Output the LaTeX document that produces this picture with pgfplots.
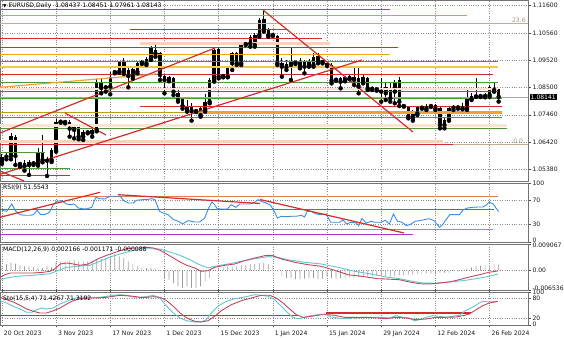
\documentclass[border=0pt]{standalone}
\usepackage{pgfplots}
\pgfplotsset{compat=1.18}
\usepackage{pgfplotstable}
\usepackage{fontspec}
\setmainfont{DejaVu Sans}

\definecolor{mtpurple}{HTML}{A43CC6}
\definecolor{mtsalmon}{HTML}{E0916A}
\definecolor{mtfib}{HTML}{C4AD95}
\definecolor{mtred}{HTML}{D22C2C}
\definecolor{mtbrred}{HTML}{B9463C}
\definecolor{mtpeach}{HTML}{FAD2B6}
\definecolor{mtpeachl}{HTML}{FCE4D2}
\definecolor{mtgold}{HTML}{E8A624}
\definecolor{mtlgold}{HTML}{F5C451}
\definecolor{mtgreen}{HTML}{4F983A}
\definecolor{mtolive}{HTML}{B3A01C}
\definecolor{mtorange}{HTML}{F29F36}
\definecolor{mtrsiorg}{HTML}{E07A50}
\definecolor{mtrsigrn}{HTML}{4A8A2A}
\definecolor{mtblue}{HTML}{3A8DDF}
\definecolor{mthist}{HTML}{9C9C9C}
\definecolor{mtmred}{HTML}{C2475A}
\definecolor{mtcyan}{HTML}{63C4D0}

\newcommand{\tfont}{\fontsize{6.1}{7.2}\selectfont}

\pgfplotsset{
  discard if not/.style 2 args={
    x filter/.append code={
      \edef\tempa{\thisrow{#1}}
      \edef\tempb{#2}
      \ifx\tempa\tempb\else\def\pgfmathresult{inf}\fi
    }
  },
  mtpanel/.style={
    scale only axis, width=528bp, anchor=south west,
    xmin=-0.42, xmax=116.5,
    xtick={0,12,...,108},
    xticklabels={},
    grid=major,
    major grid style={dotted, draw=black!45, line width=0.5bp},
    axis line style={draw=black!55, line width=0.9bp},
    ytick pos=right, yticklabel pos=right,
    scaled y ticks=false,
    tick align=outside,
    major tick length=2.5bp,
    tick style={draw=black!70, line width=0.5bp},
    xtick style={draw=none},
    ticklabel style={font=\tfont, text=black!90},
    yticklabel style={xshift=-1.5bp},
  },
  wick/.style={only marks, mark=none, error bars/.cd, y dir=plus, y explicit, error mark=none,
    error bar style={draw=black, line width=0.8bp}},
}

\pgfplotstableread{
i o h l c d
0 1.05680 1.05971 1.05592 1.05870 1
1 1.05870 1.06060 1.05769 1.05933 1
2 1.05895 1.06756 1.05769 1.06654 1
3 1.06629 1.06705 1.05554 1.05895 0
4 1.05617 1.05680 1.05490 1.05592 0
5 1.05642 1.05743 1.05338 1.05516 0
6 1.05554 1.05743 1.05174 1.05655 1
7 1.05617 1.05693 1.05554 1.05629 0
8 1.05617 1.06186 1.05528 1.06060 1
9 1.06060 1.06692 1.05655 1.05743 0
10 1.05718 1.05870 1.05136 1.05743 0
11 1.05743 1.06186 1.05667 1.06123 1
12 1.06123 1.07287 1.06060 1.07198 1
13 1.07198 1.07262 1.07160 1.07211 0
14 1.07198 1.07236 1.07135 1.07186 0
15 1.07186 1.07262 1.06629 1.06933 0
16 1.06882 1.07084 1.06566 1.07034 1
17 1.07034 1.07110 1.06528 1.06629 0
18 1.06629 1.06882 1.06502 1.06806 1
19 1.06793 1.06844 1.06756 1.06806 0
20 1.06781 1.06945 1.06629 1.06882 1
21 1.06882 1.08805 1.06831 1.08717 1
22 1.08717 1.08805 1.08274 1.08476 0
23 1.08501 1.08577 1.08337 1.08514 0
24 1.08527 1.09096 1.08236 1.08906 1
25 1.09083 1.09134 1.09033 1.09096 0
26 1.09096 1.09514 1.09058 1.09463 1
27 1.09463 1.09602 1.09008 1.09109 0
28 1.09159 1.09223 1.08501 1.08932 0
29 1.08932 1.09286 1.08830 1.09210 1
30 1.09096 1.09501 1.09033 1.09438 1
31 1.09438 1.09539 1.09387 1.09476 0
32 1.09412 1.09640 1.09349 1.09564 1
33 1.09602 1.10070 1.09539 1.09982 1
34 1.09919 1.10172 1.09665 1.09792 0
35 1.09792 1.09855 1.08780 1.08970 0
36 1.08932 1.08982 1.08274 1.08780 0
37 1.08780 1.08932 1.08729 1.08881 1
38 1.08843 1.08906 1.08210 1.08337 0
39 1.08274 1.08464 1.07957 1.08021 0
40 1.08046 1.08147 1.07692 1.07793 0
41 1.07793 1.08021 1.07578 1.07641 0
42 1.07742 1.07894 1.07236 1.07603 0
43 1.07603 1.07641 1.07565 1.07616 0
44 1.07451 1.07793 1.07388 1.07704 1
45 1.07641 1.08248 1.07578 1.07957 1
46 1.07957 1.08843 1.07894 1.08780 1
47 1.08780 1.10045 1.08717 1.09919 1
48 1.09944 1.10045 1.08843 1.08906 0
49 1.08932 1.09008 1.08881 1.08957 0
50 1.08906 1.09286 1.08881 1.09223 1
51 1.09412 1.09855 1.09159 1.09792 1
52 1.09792 1.09855 1.09349 1.09412 0
53 1.09412 1.10172 1.09349 1.10108 1
54 1.10146 1.10235 1.10108 1.10172 0
55 1.10172 1.10488 1.10045 1.10399 1
56 1.10108 1.10551 1.10045 1.10488 1
57 1.10488 1.11120 1.10425 1.11057 1
58 1.11083 1.11411 1.10614 1.10678 0
59 1.10678 1.10741 1.10425 1.10488 0
60 1.10488 1.10526 1.10450 1.10500 0
61 1.10450 1.10488 1.09349 1.09412 0
62 1.09412 1.09602 1.08906 1.09286 0
63 1.09387 1.09539 1.09159 1.09261 0
64 1.09349 1.09982 1.08780 1.09476 1
65 1.09438 1.09501 1.09387 1.09450 0
66 1.09286 1.09602 1.09223 1.09501 1
67 1.09286 1.09539 1.09033 1.09501 1
68 1.09349 1.09564 1.09286 1.09476 1
69 1.09349 1.09792 1.09286 1.09665 1
70 1.09691 1.09792 1.09412 1.09476 0
71 1.09476 1.09539 1.09412 1.09463 0
72 1.09349 1.09488 1.09311 1.09438 1
73 1.09349 1.09412 1.08653 1.08755 0
74 1.08805 1.08843 1.08755 1.08792 0
75 1.08717 1.08906 1.08464 1.08843 1
76 1.08881 1.08932 1.08729 1.08780 0
77 1.08843 1.08970 1.08805 1.08932 1
78 1.08906 1.09286 1.08590 1.08780 0
79 1.08527 1.09286 1.08274 1.08843 1
80 1.08717 1.08970 1.08653 1.08906 1
81 1.08843 1.08906 1.08400 1.08464 0
82 1.08464 1.08501 1.08400 1.08451 0
83 1.08426 1.08476 1.08375 1.08438 0
84 1.08337 1.08843 1.07957 1.08464 1
85 1.08274 1.08717 1.08021 1.08501 1
86 1.08464 1.08717 1.07957 1.08084 0
87 1.08337 1.08780 1.07894 1.08717 1
88 1.08780 1.08906 1.07793 1.07957 0
89 1.07793 1.07831 1.07768 1.07806 0
90 1.07768 1.07793 1.07325 1.07388 0
91 1.07325 1.07641 1.07236 1.07578 1
92 1.07515 1.07793 1.07451 1.07742 1
93 1.07730 1.07793 1.07692 1.07755 0
94 1.07704 1.07869 1.07641 1.07793 1
95 1.07793 1.07844 1.07755 1.07806 0
96 1.07831 1.07869 1.07641 1.07704 0
97 1.07704 1.07768 1.06945 1.07072 0
98 1.07072 1.07325 1.06945 1.07262 1
99 1.07262 1.07768 1.07236 1.07704 1
100 1.07730 1.07831 1.07641 1.07755 0
101 1.07742 1.07793 1.07692 1.07755 0
102 1.07704 1.07894 1.07666 1.07793 1
103 1.07704 1.08400 1.07641 1.08084 1
104 1.08059 1.08274 1.08021 1.08185 1
105 1.08160 1.08868 1.08135 1.08185 0
106 1.08173 1.08236 1.08135 1.08185 0
107 1.08173 1.08274 1.08122 1.08198 0
108 1.08210 1.08590 1.08147 1.08501 1
109 1.08464 1.08653 1.08337 1.08400 0
110 1.08437 1.08451 1.07961 1.08143 0
}\candles

\pgfplotstableread{
i h
0 0.00181
1 0.00226
2 0.00283
3 0.00237
4 0.00181
5 0.00147
6 0.00147
7 0.00113
8 0.00090
9 0.00090
10 0.00147
11 0.00113
12 0.00283
13 0.00317
14 0.00317
15 0.00339
16 0.00351
17 0.00317
18 0.00317
19 0.00317
20 0.00317
21 0.00373
22 0.00407
23 0.00430
24 0.00486
25 0.00565
26 0.00486
27 0.00430
28 0.00317
29 0.00226
30 0.00147
31 0.00113
32 0.00090
33 0.00090
34 0.00045
35 0.00020
36 -0.00249
37 -0.00305
38 -0.00418
39 -0.00531
40 -0.00588
41 -0.00531
42 -0.00588
43 -0.00588
44 -0.00531
45 -0.00362
46 -0.00249
47 0.00030
48 0.00068
49 0.00113
50 0.00147
51 0.00113
52 0.00147
53 0.00181
54 0.00181
55 0.00226
56 0.00226
57 0.00260
58 0.00260
59 0.00226
60 0.00181
61 0.00034
62 -0.00192
63 -0.00249
64 -0.00249
65 -0.00283
66 -0.00283
67 -0.00271
68 -0.00249
69 -0.00249
70 -0.00283
71 -0.00271
72 -0.00226
73 -0.00249
74 -0.00271
75 -0.00249
76 -0.00249
77 -0.00226
78 -0.00226
79 -0.00204
80 -0.00204
81 -0.00204
82 -0.00170
83 -0.00170
84 -0.00170
85 -0.00192
86 -0.00192
87 -0.00192
88 -0.00158
89 -0.00158
90 -0.00136
91 -0.00136
92 -0.00113
93 -0.00102
94 -0.00102
95 -0.00090
96 -0.00079
97 -0.00068
98 -0.00068
99 -0.00068
100 0.00011
101 -0.00023
102 0.00023
103 0.00068
104 0.00113
105 0.00147
106 0.00170
107 0.00181
108 0.00181
109 0.00226
110 0.00217
}\hist

\begin{document}
\begin{tikzpicture}
\useasboundingbox (0,0) rectangle (564bp,338bp);

%% ---------------- main price panel ----------------
\begin{axis}[mtpanel, at={(0,157bp)}, height=181bp,
  ymin=1.04946, ymax=1.118163,
  ytick={1.05380,1.06420,1.07460,1.08500,1.09520,1.10560,1.11600},
  yticklabels={1.05380,1.06420,1.07460,1.08500,1.09520,1.10560,1.11600},
  after end axis/.code={
    \node[anchor=west, fill=black, text=white, inner sep=1bp, font=\tfont, xshift=1.5bp] at (axis cs:116.5,1.08141) {1.08141};
  }]
% candles: wicks, bodies, white interior of rising candles
\addplot[wick] table[x=i, y=l, y error expr={\thisrow{h}-\thisrow{l}}] {\candles};
\addplot[only marks, mark=none, error bars/.cd, y dir=plus, y explicit, error mark=none,
  error bar style={draw=black, line width=3.5bp}]
  table[x=i, y expr={min(\thisrow{o},\thisrow{c})}, y error expr={max(abs(\thisrow{c}-\thisrow{o}),0.00035)}] {\candles};
\addplot[only marks, mark=none, discard if not={d}{1}, error bars/.cd, y dir=plus, y explicit, error mark=none,
  error bar style={draw=white, line width=2.2bp}]
  table[x=i, y expr={\thisrow{o}+0.00025}, y error expr={\thisrow{c}-\thisrow{o}-0.0005}] {\candles};
% horizontal levels
\addplot[mtpurple, line width=1.2bp] coordinates {(-0.42,1.11463) (85.94,1.11463)};
\addplot[mtsalmon, line width=1bp] coordinates {(-0.42,1.11213) (102.99,1.11213)};
\addplot[mtfib, line width=1bp] coordinates {(-0.42,1.10928) (116.5,1.10928)};
\addplot[mtred, line width=1bp] coordinates {(28.37,1.10704) (63.35,1.10704)};
\addplot[mtred, line width=1bp] coordinates {(-0.42,1.10363) (70.88,1.10363)};
\addplot[mtpeach, line width=3bp] coordinates {(30.58,1.10173) (72.65,1.10173)};
\addplot[mtred, line width=1bp] coordinates {(-0.42,1.10032) (87.71,1.10032)};
\addplot[mtgold, line width=1.2bp] coordinates {(-0.42,1.09755) (85.94,1.09755)};
\addplot[mtgreen, line width=1bp] coordinates {(-0.42,1.09474) (109.85,1.09474)};
\addplot[mtlgold, line width=2bp] coordinates {(-0.42,1.09262) (109.85,1.09262)};
\addplot[mtred, line width=1bp] coordinates {(-0.42,1.08970) (108.75,1.08970)};
\addplot[mtgreen, line width=1bp] coordinates {(-0.42,1.08677) (109.85,1.08677)};
\addplot[mtpeachl, line width=2.5bp] coordinates {(-0.42,1.08438) (109.85,1.08438)};
\addplot[mtbrred, line width=1bp] coordinates {(-0.42,1.08336) (109.85,1.08336)};
\addplot[black!35, line width=0.5bp] coordinates {(-0.42,1.08141) (116.5,1.08141)};
\addplot[mtgreen, line width=1bp] coordinates {(-0.42,1.08059) (110.74,1.08059)};
\addplot[mtred, line width=1bp] coordinates {(30.58,1.07766) (110.74,1.07766)};
\addplot[mtolive, line width=1.5bp] coordinates {(-0.42,1.07546) (43.87,1.07546)};
\addplot[mtorange, line width=3bp] coordinates {(42.76,1.07539) (110.74,1.07539)};
\addplot[mtgreen, line width=1bp] coordinates {(-0.42,1.07357) (110.74,1.07357)};
\addplot[mtpeachl, line width=3bp] coordinates {(-0.42,1.07060) (111.85,1.07060)};
\addplot[mtgreen, line width=1bp] coordinates {(-0.42,1.06947) (111.85,1.06947)};
\addplot[mtpeach, line width=3bp] coordinates {(-0.42,1.06438) (97.67,1.06438)};
\addplot[mtfib, line width=1bp] coordinates {(99.89,1.06343) (116.5,1.06343)};
\addplot[mtred, line width=1bp] coordinates {(-0.42,1.06313) (99.89,1.06313)};
\addplot[mtgreen, line width=1bp] coordinates {(-0.42,1.06009) (9.54,1.06009)};
\addplot[mtgreen, line width=1bp] coordinates {(-0.42,1.05428) (15.08,1.05428)};
\addplot[mtred, line width=1bp] coordinates {(-0.42,1.05136) (15.08,1.05136)};
% trend lines
\addplot[mtorange, line width=1.2bp] coordinates {(-0.42,1.08503) (35.45,1.09027)};
\addplot[mtred, line width=1.2bp] coordinates {(-0.42,1.06768) (47.2,1.09994)};
\addplot[mtred, line width=1.2bp] coordinates {(-0.42,1.05197) (79.74,1.09539)};
\addplot[mtred, line width=1.2bp] coordinates {(13.97,1.07527) (23.05,1.06692)};
\addplot[mtred, line width=1.2bp] coordinates {(-0.42,1.05326) (4.9,1.04946)};
\addplot[mtred, line width=1.2bp] coordinates {(57.82,1.11437) (91.03,1.06806)};
% texts
\node[anchor=south east, inner sep=0.8bp, font=\tfont, text=mtfib!85!black] at (axis cs:116.2,1.10928) {23.6};
\node[anchor=south east, inner sep=0.8bp, font=\tfont, text=mtfib!85!black] at (axis cs:115.6,1.06343) {0.0};
\node[anchor=west, inner sep=0pt, font=\tfont, xshift=3bp, yshift=-6bp] at (rel axis cs:0,1) {{\fontsize{4.5}{5}\selectfont ▼}\ EURUSD,Daily\ \ 1.08437 1.08451 1.07961 1.08143};
\end{axis}

%% ---------------- RSI panel ----------------
\begin{axis}[mtpanel, at={(0,96bp)}, height=59bp,
  ymin=0, ymax=100,
  ytick={0,30,70,100},
  yticklabels={\raisebox{4bp}{0},30,70,\raisebox{-4.5bp}{100}}]
\addplot[mtrsiorg, line width=1bp] coordinates {(-0.42,76.3) (109.85,76.3)};
\addplot[mtrsigrn, line width=1.2bp] coordinates {(-0.42,54.7) (108.97,54.7)};
\addplot[mtrsiorg, line width=1bp] coordinates {(-0.42,20.8) (108.75,20.8)};
\addplot[mtpurple, line width=1.6bp] coordinates {(-0.42,12.4) (91.03,12.4)};
\addplot[mtblue, line width=0.9bp] coordinates {
(0,53.7) (1.06,52.0) (2.17,64.4) (3.1,52.0) (4,46.3) (5.1,45.3) (6.2,45.3) (7,46.3) (7.8,53.7) (8.6,46.3)
(9.5,46.3) (10.5,50.3) (11.4,63.2) (12.1,69.0) (13.2,70.0) (14.3,64.4) (15.2,63.2) (16,64.4) (16.9,57.6)
(17.9,56.4) (18.9,56.4) (19.9,58.8) (20.8,75.8) (21.7,73.4) (22.8,72.9) (23.9,77.5) (25,77.5) (26.2,77.5)
(27,70.0) (28,66.1) (29.1,66.1) (29.8,70.7) (31,71.7) (32,71.7) (33.2,73.4) (33.9,71.7) (34.9,52.0)
(35.7,49.2) (36.8,46.3) (38,37.8) (39.1,35.1) (40,30.5) (40.9,35.1) (41.2,36.1) (42.7,33.9) (43.8,33.9)
(44.9,40.7) (45.8,57.6) (46.5,67.8) (47.1,63.2) (47.7,56.4) (48.6,55.9) (49.9,55.9) (50.8,63.2) (51.8,58.8)
(52.7,64.4) (53.8,64.4) (54.9,64.4) (56,67.3) (56.7,71.7) (57.4,69.0) (58.5,66.1) (59.5,62.2) (60.3,52.0)
(61,40.7) (61.9,43.6) (63,42.9) (64.1,43.6) (65.2,43.6) (66.3,45.3) (67,42.4) (67.6,52.0) (68.5,52.0)
(69.6,47.5) (70.7,46.3) (71.8,47.5) (72.8,33.4) (73.8,33.4) (74.8,33.4) (75.5,37.8) (76.3,30.5) (77.3,33.4)
(78.5,32.2) (79,27.6) (79.7,39.5) (80.7,32.2) (81.7,35.1) (82.6,33.4) (83.9,33.4) (84.9,36.8) (85.8,30.5)
(86.7,47.5) (87.6,35.1) (88.6,33.4) (89.6,27.6) (90.6,30.5) (91.5,35.1) (92.4,36.1) (93.5,37.8) (94.6,39.5)
(95.7,36.1) (96.9,24.9) (97.6,29.3) (98.3,37.8) (99.2,46.3) (100.3,46.3) (101.3,46.3) (102.2,54.7)
(103.1,57.6) (104.3,58.8) (105.4,59.3) (106.5,59.3) (107.2,62.2) (107.9,67.8) (108.8,64.4) (109.4,57.6) (110,51.6)};
\addplot[mtred, line width=1.2bp] coordinates {(-0.42,41.9) (21.72,84.2)};
\addplot[mtred, line width=1.2bp] coordinates {(25.71,80.2) (57.15,65.3)};
\addplot[mtred, line width=1.2bp] coordinates {(57.15,72.0) (89.03,15.3)};
\node[anchor=west, inner sep=0pt, font=\tfont, xshift=3bp, yshift=-5bp] at (rel axis cs:0,1) {RSI(9) 51.5543};
\end{axis}

%% ---------------- MACD panel ----------------
\begin{axis}[mtpanel, at={(0,48bp)}, height=46bp,
  ymin=-0.006536, ymax=0.009067,
  ytick={-0.006536,0,0.009067},
  yticklabels={\raisebox{4.5bp}{-0.006536},0.00,\raisebox{-6.5bp}{0.009067}}]
\addplot[ybar, bar width=0.7bp, fill=mthist, draw=none] table[x=i, y=h] {\hist};
\addplot[mtcyan, line width=0.9bp] coordinates {
(-0.42,-0.00304) (1.06,-0.00247) (3.28,-0.00189) (6.95,-0.00155) (10.65,-0.00101) (12.87,0.00035)
(14.35,0.00116) (16.56,0.00150) (19.51,0.00184) (21.72,0.00320) (23.94,0.00466) (26.15,0.00568)
(28.37,0.00659) (30.58,0.00737) (32.79,0.00747) (35.01,0.00737) (37.22,0.00635) (39.44,0.00523)
(41.65,0.00374) (43.42,0.00228) (45.64,0.00093) (47.12,0.00150) (50.07,0.00228) (53.01,0.00320)
(55.98,0.00408) (58.92,0.00476) (61.14,0.00456) (63.35,0.00374) (67.05,0.00286) (70.73,0.00228)
(74.42,0.00116) (78.12,-0.00019) (83.28,-0.00155) (85.05,-0.00213) (88.0,-0.00270) (90.21,-0.00338)
(93.18,-0.00416) (96.13,-0.00426) (99.07,-0.00382) (102.04,-0.00338) (104.98,-0.00270) (107.93,-0.00189) (109.79,-0.00117)};
\addplot[mtmred, line width=0.9bp] coordinates {
(-0.42,-0.00223) (0.69,-0.00135) (1.79,-0.00077) (4.74,-0.00077) (6.95,-0.00077) (9.17,-0.00053)
(10.65,-0.00019) (11.76,0.00069) (12.87,0.00228) (14.35,0.00262) (15.81,0.00228) (17.29,0.00184)
(19.13,0.00228) (20.24,0.00320) (21.72,0.00432) (23.21,0.00523) (24.67,0.00601) (26.15,0.00679)
(27.63,0.00747) (29.1,0.00771) (30.58,0.00771) (32.06,0.00795) (33.53,0.00771) (35.01,0.00693)
(36.49,0.00568) (37.95,0.00432) (39.44,0.00296) (40.92,0.00184) (42.69,0.00093) (44.15,-0.00019)
(45.64,0.00001) (47.12,0.00116) (49.34,0.00184) (51.55,0.00228) (53.76,0.00340) (55.98,0.00432)
(58.19,0.00510) (60.03,0.00510) (61.87,0.00398) (64.84,0.00286) (67.78,0.00205) (70.73,0.00150)
(73.69,0.00015) (76.64,-0.00135) (79.58,-0.00189) (83.28,-0.00270) (85.05,-0.00281) (88.0,-0.00304)
(90.21,-0.00382) (92.43,-0.00440) (94.64,-0.00450) (96.86,-0.00416) (99.07,-0.00382) (101.28,-0.00304)
(103.5,-0.00213) (105.71,-0.00135) (107.93,-0.00050) (109.79,-0.00009)};
\node[anchor=west, inner sep=0pt, font=\tfont, xshift=3bp, yshift=-6bp] at (rel axis cs:0,1) {MACD(12,26,9) 0.002166 -0.001171 -0.000088};
\end{axis}

%% ---------------- Stochastic panel ----------------
\begin{axis}[mtpanel, at={(0,13bp)}, height=33bp,
  ymin=0, ymax=100,
  ytick={0,20,80,100},
  yticklabels={\raisebox{2.5bp}{0},20,80,\raisebox{-5.5bp}{100}},
  xticklabels={20 Oct 2023,3 Nov 2023,17 Nov 2023,1 Dec 2023,15 Dec 2023,1 Jan 2024,15 Jan 2024,29 Jan 2024,12 Feb 2024,26 Feb 2024},
  xtick style={draw=black!70, line width=0.5bp},
  xticklabel style={anchor=north west, xshift=-1.5bp}]
\addplot[mtred, line width=1.2bp] coordinates {(-0.42,28.2) (65.6,28.2)};
\addplot[mtred, line width=1.2bp] coordinates {(71.8,36.4) (103.9,36.4)};
\addplot[mtcyan, line width=0.9bp] coordinates {
(-0.42,73.6) (1.06,66.7) (2.52,56.7) (4.0,48.5) (5.49,38.5) (6.6,38.5) (7.71,46.4) (8.81,51.5) (9.92,48.5)
(11.38,51.5) (12.87,63.6) (14.35,71.8) (15.81,79.7) (17.29,83.9) (18.78,84.8) (20.24,83.9) (21.72,83.9)
(23.21,87.0) (24.67,90.0) (26.15,91.8) (27.63,90.0) (29.1,84.8) (30.58,83.9) (32.06,85.8) (33.53,90.0)
(35.01,81.8) (36.49,56.7) (37.95,36.4) (39.44,21.2) (40.92,13.0) (42.69,9.1) (44.15,9.1) (45.26,16.1)
(46.37,36.4) (47.85,56.7) (49.34,69.7) (51.55,79.7) (53.76,84.8) (55.98,91.8) (57.44,90.0) (58.92,87.0)
(60.41,76.7) (61.87,56.7) (63.35,36.4) (64.46,23.3) (65.57,19.1) (67.05,23.3) (68.51,28.2) (70.0,31.2)
(71.48,33.3) (72.94,24.2) (74.42,21.2) (75.91,19.1) (77.37,21.2) (78.85,21.2) (80.34,23.3) (81.8,23.3)
(83.28,23.3) (84.3,23.3) (85.78,21.2) (87.27,28.2) (88.75,23.3) (90.21,21.2) (91.32,13.0) (92.43,16.1)
(93.91,23.3) (95.39,28.2) (96.86,26.4) (98.34,23.3) (99.82,26.4) (101.3,29.4) (102.4,41.5) (103.5,49.4)
(104.6,56.7) (105.7,66.7) (106.5,71.8) (107.9,69.7) (109.8,71.4)};
\addplot[mtmred, line width=0.9bp] coordinates {
(-0.42,83.9) (1.06,76.7) (2.52,69.7) (4.0,59.7) (5.49,48.5) (6.95,41.5) (8.44,36.4) (9.92,36.4) (11.38,43.3)
(12.87,51.5) (14.35,63.6) (15.81,73.6) (17.29,79.7) (19.13,81.8) (20.99,81.8) (23.21,83.9) (24.67,87.0)
(26.15,90.0) (27.63,88.8) (29.1,87.0) (30.58,83.9) (32.06,83.9) (33.53,85.8) (35.01,83.9) (36.49,73.6)
(37.95,56.7) (39.44,36.4) (40.92,21.2) (42.69,11.2) (44.15,9.1) (45.64,13.0) (47.12,26.4) (48.59,43.3)
(50.8,61.5) (53.01,73.6) (55.23,81.8) (57.44,90.0) (59.3,90.0) (60.76,81.8) (62.25,66.7) (63.73,48.5)
(65.19,31.2) (66.67,23.3) (68.51,26.4) (70.73,31.2) (72.21,31.2) (73.69,29.4) (75.91,23.3) (78.12,23.3)
(80.34,23.3) (83.28,21.2) (85.05,19.1) (87.27,23.3) (89.48,21.2) (91.7,16.1) (93.91,18.2) (96.13,23.3)
(98.34,23.3) (100.55,24.2) (102.04,28.2) (103.5,33.3) (105.0,46.4) (106.5,58.5) (107.9,66.7) (109.8,71.3)};
\node[anchor=west, inner sep=0pt, font=\tfont, xshift=3bp, yshift=-6.5bp] at (rel axis cs:0,1) {Sto(15,5,4) 71.4267 71.3192};
\end{axis}
\end{tikzpicture}
\end{document}
